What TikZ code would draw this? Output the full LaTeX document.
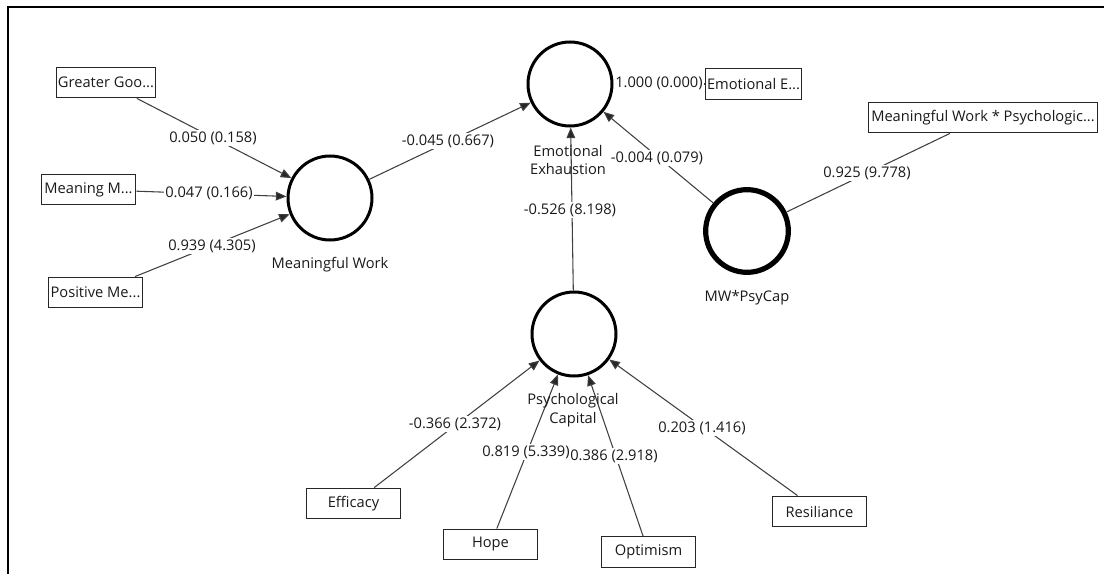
\documentclass[tikz,border=0pt]{standalone}
\usepackage{fontspec}
\setmainfont{Open Sans}
\usetikzlibrary{arrows.meta}
\begin{document}
\begin{tikzpicture}[x=0.75pt,y=-0.75pt,
  every node/.style={font=\fontsize{11}{14.2}\selectfont, text=black!90},
  construct/.style={circle, draw=black, line width=2.25pt, minimum size=63pt, inner sep=0pt},
  interaction/.style={circle, draw=black, line width=3.9pt, minimum size=62pt, inner sep=0pt},
  indicator/.style={rectangle, draw=black!85, line width=0.9pt, minimum width=71pt, minimum height=23pt, inner sep=1pt},
  wideindicator/.style={indicator, minimum width=172pt},
  link/.style={draw=black!75, line width=0.8pt},
  arrowlink/.style={link, -{Triangle[length=8pt,width=6.5pt,fill=black!85]}},
  coef/.style={fill=white, inner sep=1pt},
  cname/.style={align=center, inner sep=0pt}
]
\useasboundingbox (0,0) rectangle (1104,574);
% outer frame (top and left edges)
\draw[line width=1.5pt] (7.5,574) -- (7.5,7.5) -- (1104,7.5);

% latent constructs
\node[construct] (EE) at (570,84) {};
\node[construct] (MW) at (330,198) {};
\node[construct] (PC) at (574,334) {};
\node[interaction] (MWP) at (747,231) {};

% indicators
\node[indicator] (GG) at (106,82.5) {Greater Goo...};
\node[indicator] (MM) at (88.5,189.5) {Meaning M...};
\node[indicator] (PM) at (95.5,292.5) {Positive Me...};
\node[indicator] (EEi) at (753.5,84) {Emotional E...};
\node[wideindicator] (MWPi) at (983,117.5) {Meaningful Work * Psychologic...};
\node[indicator] (EF) at (353.5,503.5) {Efficacy};
\node[indicator] (HO) at (490.5,544.5) {Hope};
\node[indicator] (OP) at (648.5,552) {Optimism};
\node[indicator] (RE) at (819.5,511.5) {Resiliance};

% measurement paths
\draw[arrowlink] (GG) -- (MW);
\draw[arrowlink] (MM) -- (MW);
\draw[arrowlink] (PM) -- (MW);
\draw[link] (EEi) -- (EE);
\draw[link] (MWPi) -- (MWP);
\draw[arrowlink] (EF) -- (PC);
\draw[arrowlink] (HO) -- (PC);
\draw[arrowlink] (OP) -- (PC);
\draw[arrowlink] (RE) -- (PC);

% structural paths
\draw[arrowlink] (MW) -- (EE);
\draw[arrowlink] (PC) -- (EE);
\draw[arrowlink] (MWP) -- (EE);

% construct names
\node[cname] at (568,160) {Emotional\\Exhaustion};
\node[cname] at (330,265) {Meaningful Work};
\node[cname] at (573,410) {Psychological\\Capital};
\node[cname] at (747,298) {MW*PsyCap};

% path coefficients (t values)
\node[coef] at (213,138) {0.050 (0.158)};
\node[coef] at (209,193) {0.047 (0.166)};
\node[coef] at (212,246) {0.939 (4.305)};
\node[coef] at (448,141) {-0.045 (0.667)};
\node[coef] at (659,83) {1.000 (0.000)};
\node[coef] at (570,210) {-0.526 (8.198)};
\node[coef] at (657,158) {-0.004 (0.079)};
\node[coef] at (867,173) {0.925 (9.778)};
\node[coef] at (455,424) {-0.366 (2.372)};
\node[coef] at (526,452) {0.819 (5.339)};
\node[coef] at (614,456) {0.386 (2.918)};
\node[coef] at (702,428) {0.203 (1.416)};
\end{tikzpicture}
\end{document}
